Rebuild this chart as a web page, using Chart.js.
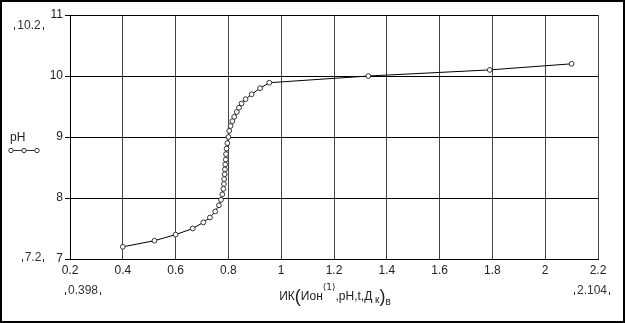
<!DOCTYPE html>
<html>
<head>
<meta charset="utf-8">
<script src="https://cdn.jsdelivr.net/npm/chart.js@4.4.1/dist/chart.umd.min.js"></script>
<style>
html, body { margin: 0; padding: 0; background: #fff; }
#wrap { width: 625px; height: 323px; }
</style>
</head>
<body>
<div id="wrap"><canvas id="phChart" width="625" height="323"></canvas></div>
<script>
// значения ИК (ось X) и pH (ось Y)
var ikValues = [0.40, 0.52, 0.60, 0.665, 0.705, 0.73, 0.75, 0.764, 0.772, 0.777, 0.781, 0.783,
    0.784, 0.786, 0.787, 0.788, 0.790, 0.791, 0.793, 0.796, 0.800, 0.803, 0.808, 0.815,
    0.822, 0.832, 0.840, 0.850, 0.865, 0.888, 0.920, 0.955, 1.33, 1.79, 2.10];
var phValues = [7.20, 7.30, 7.40, 7.50, 7.60, 7.68, 7.78, 7.88, 7.97, 8.06, 8.15, 8.23,
    8.31, 8.39, 8.47, 8.55, 8.63, 8.72, 8.81, 8.90, 9.00, 9.10, 9.18, 9.26,
    9.33, 9.41, 9.48, 9.55, 9.62, 9.70, 9.80, 9.89, 10.00, 10.10, 10.20];

var xTicks = [0.2, 0.4, 0.6, 0.8, 1, 1.2, 1.4, 1.6, 1.8, 2, 2.2];
var yTicks = [7, 8, 9, 10, 11];

// подписи диапазона (как в Mathcad)
var yRangeLabels = ['10.2', '7.2'];
var xRangeLabels = ['0.398', '2.104'];
var seriesName = 'pH';

var points = ikValues.map(function (v, i) { return { x: v, y: phValues[i] }; });

var FONT = 'Arial, "Liberation Sans", sans-serif';

// рамка, легенда, подписи диапазона и заголовок оси X
var extras = {
    id: 'extras',
    afterDraw: function (chart) {
        var ctx = chart.ctx;
        ctx.save();

        ctx.strokeStyle = '#000';
        ctx.lineWidth = 2;
        ctx.strokeRect(1, 1, 623, 321);

        // легенда слева
        ctx.fillStyle = '#222';
        ctx.font = '12px ' + FONT;
        ctx.textAlign = 'left';
        ctx.textBaseline = 'alphabetic';
        ctx.fillText(seriesName, 10, 141);
        ctx.lineWidth = 1;
        ctx.strokeStyle = '#333';
        ctx.beginPath();
        ctx.moveTo(9, 150.5);
        ctx.lineTo(38, 150.5);
        ctx.stroke();
        [11, 24, 37].forEach(function (cx) {
            ctx.beginPath();
            ctx.arc(cx, 150.5, 2.2, 0, Math.PI * 2);
            ctx.fillStyle = '#fff';
            ctx.fill();
            ctx.stroke();
        });

        // подписи диапазона
        function rangeLabel(txt, x, y, align) {
            ctx.font = '12px ' + FONT;
            ctx.fillStyle = '#333';
            ctx.textAlign = align;
            ctx.fillText(txt, x, y);
            var w = ctx.measureText(txt).width;
            var left = align === 'right' ? x - w : (align === 'center' ? x - w / 2 : x);
            ctx.fillRect(Math.round(left - 3), y - 2, 1, 3);
            ctx.fillRect(Math.round(left + w + 2), y - 2, 1, 3);
        }
        rangeLabel(yRangeLabels[0], 29, 29, 'center');
        rangeLabel(yRangeLabels[1], 33, 261, 'center');
        rangeLabel(xRangeLabels[0], 68, 294, 'left');
        rangeLabel(xRangeLabels[1], 607, 294, 'right');

        // заголовок оси X: ИК(Ион<1>,pH,t,Д к)в
        var parts = [
            { t: 'ИК', f: '12px ' + FONT, dy: 0 },
            { t: '(', f: '18px ' + FONT, dy: 2 },
            { t: 'Ион', f: '12px ' + FONT, dy: 0 },
            { t: '\u27E81\u27E9', f: '9px "DejaVu Sans", sans-serif', dy: -10 },
            { t: ',pH,t,Д', f: '12px ' + FONT, dy: 0 },
            { t: ' к', f: '10px ' + FONT, dy: 3 },
            { t: ')', f: '18px ' + FONT, dy: 2 },
            { t: 'в', f: '10px ' + FONT, dy: 5 }
        ];
        var total = 0;
        parts.forEach(function (p) {
            ctx.font = p.f;
            p.w = ctx.measureText(p.t).width;
            total += p.w;
        });
        var x = 335 - total / 2;
        ctx.textAlign = 'left';
        ctx.fillStyle = '#222';
        parts.forEach(function (p) {
            ctx.font = p.f;
            ctx.fillText(p.t, x, 300 + p.dy);
            x += p.w;
        });

        ctx.restore();
    }
};

var ctx = document.getElementById('phChart').getContext('2d');
var myChart = new Chart(ctx, {
    type: 'scatter',
    data: {
        datasets: [{
            label: seriesName,
            data: points,
            showLine: true,
            borderColor: '#000',
            borderWidth: 1,
            pointRadius: 2.4,
            pointBorderWidth: 1,
            pointBorderColor: '#333',
            pointBackgroundColor: '#fff',
            tension: 0
        }]
    },
    options: {
        responsive: false,
        animation: false,
        devicePixelRatio: 1,
        layout: { padding: { top: 15, right: 27, left: 0, bottom: 0 } },
        scales: {
            x: {
                type: 'linear',
                min: 0.2,
                max: 2.2,
                afterBuildTicks: function (scale) {
                    scale.ticks = xTicks.map(function (v) { return { value: v }; });
                },
                afterFit: function (scale) { scale.height = 64; },
                ticks: {
                    color: '#222',
                    font: { family: FONT, size: 12 },
                    padding: 4,
                    maxRotation: 0,
                    callback: function (v) { return String(+v.toFixed(1)); }
                },
                grid: { color: '#444', lineWidth: 1, drawTicks: false },
                border: { color: '#000', width: 1 }
            },
            y: {
                type: 'linear',
                min: 7,
                max: 11,
                afterBuildTicks: function (scale) {
                    scale.ticks = yTicks.map(function (v) { return { value: v }; });
                },
                afterFit: function (scale) { scale.width = 70; },
                ticks: {
                    color: '#222',
                    font: { family: FONT, size: 12 },
                    padding: 2
                },
                grid: { color: '#000', lineWidth: 1, tickLength: 5 },
                border: { color: '#000', width: 1 }
            }
        },
        plugins: {
            legend: { display: false },
            tooltip: { enabled: false }
        }
    },
    plugins: [extras]
});
</script>
</body>
</html>
